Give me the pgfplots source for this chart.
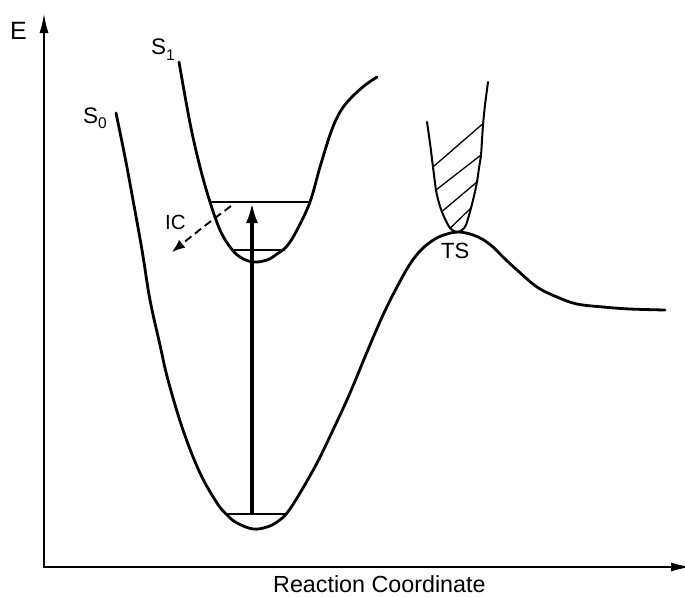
\documentclass[border=0pt]{standalone}
\usepackage{pgfplots}
\pgfplotsset{compat=1.18}
\usepackage{fontspec}
\setmainfont{Liberation Sans}
\usetikzlibrary{arrows.meta}

\begin{document}
\begin{tikzpicture}
\begin{axis}[
  name=ax,
  width=685pt, height=597pt, scale only axis,
  xmin=0, xmax=685, ymin=0, ymax=597,
  y dir=reverse,
  axis lines=none,
  clip=false,
  every axis plot/.append style={black, line join=round, line cap=round},
]
% energy and reaction-coordinate axes
\addplot[line width=2.8pt, line cap=butt, -{Latex[length=21pt,width=9pt]}] coordinates {(44,568.4) (44,12)};
\addplot[line width=2.6pt, line cap=butt, -{Latex[length=21pt,width=9pt]}] coordinates {(42.6,567) (692,567)};

% ground-state surface S0 with the transition-state barrier
\addplot[line width=2.8pt, smooth, tension=0.6] coordinates {
  (116,113) (125,157) (133,200) (142,250) (150,300) (160,345) (168,380)
  (183,430) (200,473) (217,503) (227,515) (237,523) (253,529) (267,527)
  (277,522) (287,513) (300,493) (317,463) (333,430) (350,393) (367,352)
  (383,315) (397,287) (410,264) (422,249) (435,239) (447,234) (458,232)
  (470,234) (482,239) (493,247) (503,257) (517,270) (537,287) (557,297)
  (577,304) (603,307) (630,309) (665,310)
};

% excited-state surface S1
\addplot[line width=2.8pt, smooth, tension=0.6] coordinates {
  (179,62) (190,123) (200,167) (210,202) (220,230) (230,247) (240,257)
  (253,262) (267,260) (277,254) (287,246) (297,230) (310,202) (320,167)
  (331,132) (340,112) (350,99) (364,86) (377,77)
};

% upper surface touching the barrier at TS
\addplot[line width=2pt, smooth, tension=0.5] coordinates {
  (427,122) (430,143) (433,167) (436,190) (439,203) (442,212) (446,221)
  (450,228) (454,231) (458,232) (462,230) (466,225) (471,208) (474,196)
  (477,182) (479,168) (481,155) (482,140) (483,125) (485,105) (488,82)
};

% hatching inside the upper surface
\addplot[line width=1.3pt] coordinates {(433.3,166.7) (483.3,123.3)};
\addplot[line width=1.3pt] coordinates {(436,190) (481,155)};
\addplot[line width=1.3pt] coordinates {(441.7,211.7) (477.3,181.7)};
\addplot[line width=1.3pt] coordinates {(450,228.3) (470.7,208.3)};

% vibrational levels
\addplot[line width=2.4pt, line cap=butt] coordinates {(209,202) (310,202)};
\addplot[line width=2.4pt, line cap=butt] coordinates {(234,250) (285,250)};
\addplot[line width=2.4pt, line cap=butt] coordinates {(226,514) (287,514)};

% vertical excitation
\addplot[line width=4pt, line cap=butt, -{Latex[length=21pt,width=12pt]}] coordinates {(252,514) (252,202)};

% internal conversion
\addplot[line width=1.9pt, line cap=butt, dash pattern=on 8pt off 4.5pt, smooth,
  -{Latex[length=13pt,width=10pt]}] coordinates {(231,206) (202,228) (172,252)};

% labels
\node[anchor=base west, inner sep=0pt, font=\fontsize{25}{25}\selectfont] at (axis cs:10,39) {E};
\node[anchor=base west, inner sep=0pt, font=\fontsize{22.5}{22.5}\selectfont] at (axis cs:83,123)
  {S\raisebox{-5pt}{\fontsize{15.5}{15.5}\selectfont 0}};
\node[anchor=base west, inner sep=0pt, font=\fontsize{22.5}{22.5}\selectfont] at (axis cs:151,54)
  {S\raisebox{-7pt}{\fontsize{15.5}{15.5}\selectfont 1}};
\node[anchor=base west, inner sep=0pt, font=\fontsize{20.5}{20.5}\selectfont] at (axis cs:165,229) {IC};
\node[anchor=base west, inner sep=0pt, font=\fontsize{22}{22}\selectfont] at (axis cs:441,258) {TS};
\node[anchor=base west, inner sep=0pt, font=\fontsize{23.3}{23.3}\selectfont] at (axis cs:273,592) {Reaction Coordinate};
\end{axis}
\pgfresetboundingbox
\path (ax.south west) rectangle (ax.north east);
\end{tikzpicture}
\end{document}
